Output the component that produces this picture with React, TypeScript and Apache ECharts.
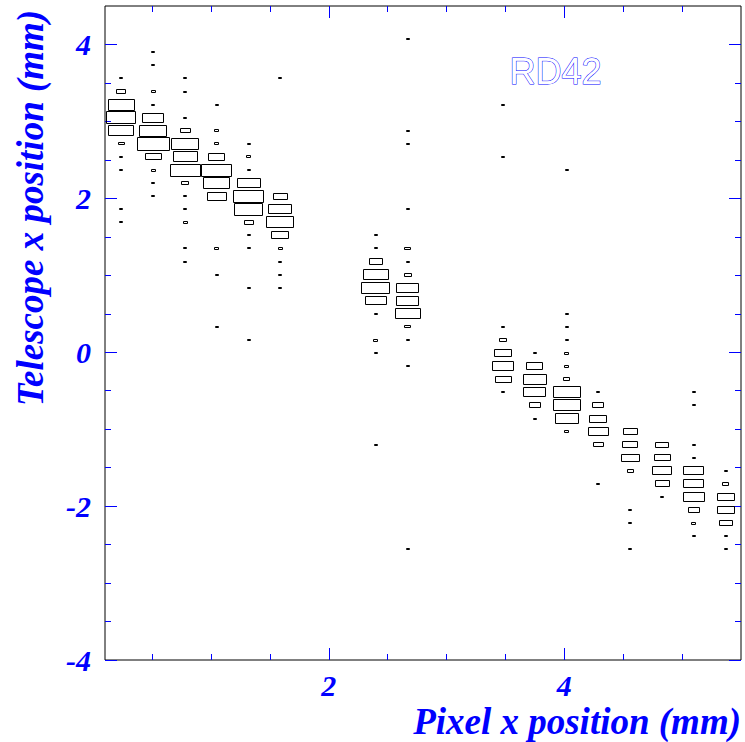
import React, { useEffect, useRef } from "react";
import * as echarts from "echarts";

// Histogram binning (20 x-bins, 50 y-bins)
const X_MIN = 0.1;
const X_MAX = 5.5;
const Y_MIN = -4;
const Y_MAX = 4.5;
const X_BINS = 20;
const Y_BINS = 50;
const Z_MAX = 100;

// Axis ticks / labels
const xMajorTicks = [2, 4];
const xMinorTicks = [0.5, 1, 1.5, 2.5, 3, 3.5, 4.5, 5];
const yMajorTicks = [-4, -2, 0, 2, 4];
const yMinorTicks = [-3.5, -3, -2.5, -1.5, -1, -0.5, 0.5, 1, 1.5, 2.5, 3, 3.5];

const xTitle = "Pixel x position (mm)";
const yTitle = "Telescope x position (mm)";
const labelText = "RD42";

// Each column: pixel x (bin centre) and list of [telescope x, entries]
const col01 = [[3.565, 1], [3.395, 8], [3.225, 69], [3.055, 85], [2.885, 62], [2.715, 3], [2.545, 1], [2.375, 1], [1.865, 1], [1.695, 1]];
const col02 = [[3.905, 1], [3.735, 1], [3.395, 2], [3.225, 1], [3.055, 44], [2.885, 72], [2.715, 100], [2.545, 24], [2.375, 2], [2.205, 1], [2.035, 1]];
const col03 = [[3.565, 1], [3.395, 1], [3.055, 1], [2.885, 9], [2.715, 72], [2.545, 58], [2.375, 90], [2.205, 5], [2.035, 1], [1.865, 1], [1.695, 2], [1.355, 1], [1.185, 1]];
const col04 = [[3.225, 1], [2.885, 2], [2.715, 2], [2.545, 25], [2.375, 88], [2.205, 66], [2.035, 36], [1.355, 2], [1.015, 1], [0.335, 1]];
const col05 = [[2.715, 1], [2.545, 2], [2.375, 1], [2.205, 52], [2.035, 88], [1.865, 79], [1.695, 8], [1.525, 1], [1.355, 1], [0.845, 1], [0.165, 1]];
const col06 = [[3.565, 1], [2.035, 19], [1.865, 52], [1.695, 71], [1.525, 30], [1.355, 2], [1.185, 1], [1.015, 1], [0.845, 1]];
const col09 = [[1.525, 1], [1.355, 1], [1.185, 18], [1.015, 62], [0.845, 77], [0.675, 42], [0.505, 1], [0.165, 2], [-0.005, 1], [-1.195, 1]];
const col10 = [[4.075, 1], [2.885, 1], [2.715, 1], [1.865, 1], [1.355, 3], [1.185, 1], [1.015, 5], [0.845, 49], [0.675, 50], [0.505, 61], [0.335, 3], [0.165, 1], [-0.175, 1], [-2.555, 1]];
const col13 = [[3.225, 1], [2.545, 1], [0.335, 1], [0.165, 5], [-0.005, 29], [-0.175, 44], [-0.345, 24], [-0.515, 1]];
const col14 = [[-0.005, 1], [-0.175, 26], [-0.345, 53], [-0.515, 48], [-0.685, 13], [-0.855, 1]];
const col15 = [[2.375, 1], [0.505, 1], [0.335, 1], [0.165, 1], [-0.005, 2], [-0.175, 2], [-0.345, 4], [-0.515, 71], [-0.685, 71], [-0.855, 53], [-1.025, 2]];
const col16 = [[-0.515, 1], [-0.685, 12], [-0.855, 27], [-1.025, 40], [-1.195, 10], [-1.705, 1]];
const col17 = [[-1.025, 19], [-1.195, 22], [-1.365, 32], [-1.535, 4], [-2.045, 1], [-2.215, 1], [-2.555, 1]];
const col18 = [[-1.195, 16], [-1.365, 24], [-1.535, 34], [-1.705, 19], [-1.875, 1]];
const col19 = [[-0.515, 1], [-0.685, 1], [-1.195, 1], [-1.365, 1], [-1.535, 40], [-1.705, 40], [-1.875, 44], [-2.045, 12], [-2.215, 2], [-2.385, 1]];
const col20 = [[-1.535, 1], [-1.705, 4], [-1.875, 28], [-2.045, 28], [-2.215, 16], [-2.385, 1], [-2.555, 1]];

const pixelX = [0.235, 0.505, 0.775, 1.045, 1.315, 1.585, 2.395, 2.665, 3.475, 3.745, 4.015, 4.285, 4.555, 4.825, 5.095, 5.365];
const columns = [col01, col02, col03, col04, col05, col06, col09, col10, col13, col14, col15, col16, col17, col18, col19, col20];

const BLUE = "#0000ff";
const SERIF = "'Liberation Serif', 'Times New Roman', serif";

function tickAxis(kind: "x" | "y", pos: string, values: number[], len: number, withLabels: boolean) {
  const isX = kind === "x";
  return {
    type: "value",
    position: pos,
    offset: 0,
    min: isX ? X_MIN : Y_MIN,
    max: isX ? X_MAX : Y_MAX,
    axisLine: { show: false, onZero: false },
    splitLine: { show: false },
    axisTick: {
      show: true,
      inside: true,
      length: len,
      customValues: values,
      lineStyle: { color: BLUE, width: 1 },
    },
    axisLabel: withLabels
      ? {
          show: true,
          customValues: values,
          color: BLUE,
          fontFamily: SERIF,
          fontWeight: "bold",
          fontStyle: "italic",
          fontSize: 30,
          margin: isX ? 10 : 14,
          formatter: (v: number) => String(v),
        }
      : { show: false },
  };
}

export default function App() {
  const ref = useRef<HTMLDivElement>(null);
  useEffect(() => {
    if (!ref.current) return;
    const chart = echarts.init(ref.current, null, { renderer: "svg" });
    const binW = (X_MAX - X_MIN) / X_BINS;
    const binH = (Y_MAX - Y_MIN) / Y_BINS;
    const data: number[][] = [];
    columns.forEach((col, i) => {
      col.forEach(([y, n]) => data.push([pixelX[i], y, n]));
    });

    chart.setOption({
      animation: false,
      backgroundColor: "#ffffff",
      grid: {
        left: 105,
        right: 4,
        top: 6,
        bottom: 82,
        show: true,
        borderColor: "#000000",
        borderWidth: 1,
        backgroundColor: "transparent",
      },
      xAxis: [
        tickAxis("x", "bottom", xMajorTicks, 12, true),
        tickAxis("x", "bottom", xMinorTicks, 6, false),
        tickAxis("x", "top", xMajorTicks, 12, false),
        tickAxis("x", "top", xMinorTicks, 6, false),
      ],
      yAxis: [
        tickAxis("y", "left", yMajorTicks, 12, true),
        tickAxis("y", "left", yMinorTicks, 6, false),
        tickAxis("y", "right", yMajorTicks, 12, false),
        tickAxis("y", "right", yMinorTicks, 6, false),
      ],
      series: [
        {
          type: "custom",
          xAxisIndex: 0,
          yAxisIndex: 0,
          clip: true,
          data,
          renderItem: (params: any, api: any) => {
            const c = api.coord([api.value(0), api.value(1)]);
            const s = api.size([binW, binH]);
            const r = Math.sqrt(api.value(2) / Z_MAX);
            const w = Math.max(1, Math.round(s[0] * r));
            const h = Math.max(1, Math.round(s[1] * r));
            const x0 = Math.round(c[0] - w / 2) + 0.5;
            const y0 = Math.round(c[1] - h / 2) + 0.5;
            return {
              type: "rect",
              shape: { x: x0, y: y0, width: w, height: h },
              style: { fill: "transparent", stroke: "#000000", lineWidth: 1 },
            };
          },
        },
      ],
      graphic: [
        {
          type: "text",
          left: 509,
          top: 53,
          style: {
            text: labelText,
            fontFamily: "'Liberation Sans', Arial, sans-serif",
            fontSize: 36,
            fill: "#ffffff",
            stroke: BLUE,
            lineWidth: 1,
          },
        },
        {
          type: "text",
          x: 741,
          y: 721,
          style: {
            text: xTitle,
            fontFamily: SERIF,
            fontWeight: "bold",
            fontStyle: "italic",
            fontSize: 37,
            fill: BLUE,
            align: "right",
            verticalAlign: "middle",
          },
        },
        {
          type: "text",
          x: 30,
          y: 208,
          rotation: Math.PI / 2,
          style: {
            text: yTitle,
            fontFamily: SERIF,
            fontWeight: "bold",
            fontStyle: "italic",
            fontSize: 37,
            fill: BLUE,
            align: "center",
            verticalAlign: "middle",
          },
        },
      ],
    });
    return () => chart.dispose();
  }, []);
  return <div ref={ref} style={{ width: 745, height: 742, position: "absolute", left: 0, top: 0 }} />;
}
